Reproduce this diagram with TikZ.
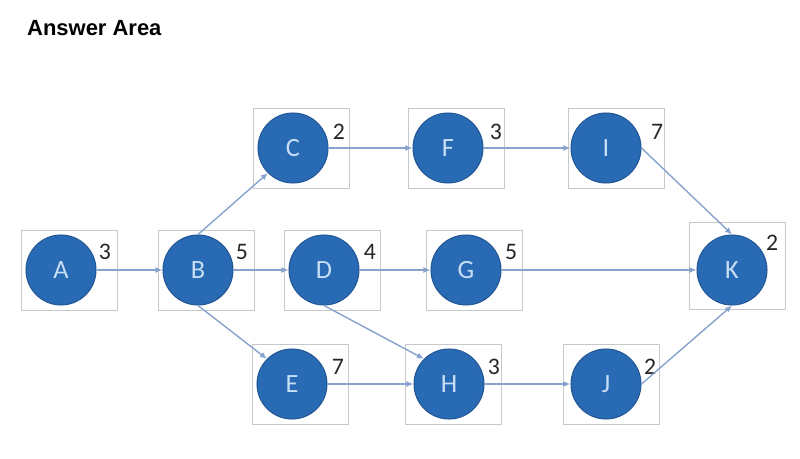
\documentclass[tikz,border=0pt]{standalone}
\usepackage{fontspec}
\setmainfont{Carlito}
\newfontfamily\titlefont{Liberation Sans}
\usepackage{tikz}
\usetikzlibrary{arrows.meta}
\usepackage{xcolor}
\definecolor{taskblue}{RGB}{40,106,180}
\definecolor{taskedge}{RGB}{36,88,150}
\definecolor{tasktext}{RGB}{200,222,245}
\definecolor{linkblue}{RGB}{135,162,205}
\definecolor{boxgray}{RGB}{200,200,200}

\tikzset{
  task/.style={circle, fill=taskblue, draw=taskedge, line width=0.6pt,
    minimum size=1.4cm, inner sep=0pt, text=tasktext, font=\fontsize{15}{15}\selectfont},
  taskbox/.style={draw=boxgray, line width=0.5pt, minimum width=1.92cm, minimum height=1.6cm, inner sep=0pt},
  dur/.style={font=\fontsize{13.5}{13.5}\selectfont, text=black!85, inner sep=0pt},
  link/.style={draw=linkblue, line width=0.8pt, -{Latex[length=4pt,width=3.5pt]}}
}

\begin{document}
\begin{tikzpicture}[x=0.02cm, y=-0.02cm]
\useasboundingbox (0,0) rectangle (800,459);
\node[anchor=base west, font=\titlefont\bfseries\fontsize{12.5}{12.5}\selectfont] (title) at (21,36) {Answer Area};
% boxes
\node[taskbox] (Abox) at (69,270) {};
\node[taskbox] (Bbox) at (206,270) {};
\node[taskbox] (Cbox) at (301,148) {};
\node[taskbox] (Dbox) at (332,270) {};
\node[taskbox] (Ebox) at (300,384) {};
\node[taskbox] (Fbox) at (456,148) {};
\node[taskbox] (Gbox) at (474,270) {};
\node[taskbox] (Hbox) at (453,384) {};
\node[taskbox] (Ibox) at (616,148) {};
\node[taskbox] (Jbox) at (611,384) {};
\node[taskbox, minimum height=1.74cm] (Kbox) at (737,266) {};
% tasks
\node[task] (A) at (61,270) {A};
\node[task] (B) at (198,270) {B};
\node[task] (C) at (293,148) {C};
\node[task] (D) at (324,270) {D};
\node[task] (E) at (292,384) {E};
\node[task] (F) at (448,148) {F};
\node[task] (G) at (466,270) {G};
\node[task] (H) at (449,384) {H};
\node[task] (I) at (606,148) {I};
\node[task] (J) at (606,384) {J};
\node[task] (K) at (732,270) {K};
% durations
\node[dur] (Ad) at (105,252) {3};
\node[dur] (Bd) at (242,252) {5};
\node[dur] (Cd) at (339,132) {2};
\node[dur] (Dd) at (370,252) {4};
\node[dur] (Ed) at (338,367) {7};
\node[dur] (Fd) at (496,132) {3};
\node[dur] (Gd) at (511,252) {5};
\node[dur] (Hd) at (494,367) {3};
\node[dur] (Id) at (657,132) {7};
\node[dur] (Jd) at (650,367) {2};
\node[dur] (Kd) at (772,243) {2};
% links
\draw[link] (A.east) -- (B.west);
\draw[link] (B.north) -- (C.225);
\draw[link] (B.east) -- (D.west);
\draw[link] (B.south) -- (E.135);
\draw[link] (C.east) -- (F.west);
\draw[link] (D.east) -- (G.west);
\draw[link] (D.south) -- (H.135);
\draw[link] (E.east) -- (H.west);
\draw[link] (F.east) -- (I.west);
\draw[link] (G.east) -- (K.west);
\draw[link] (H.east) -- (J.west);
\draw[link] (I.east) -- (K.north);
\draw[link] (J.east) -- (K.south);
\end{tikzpicture}
\end{document}
